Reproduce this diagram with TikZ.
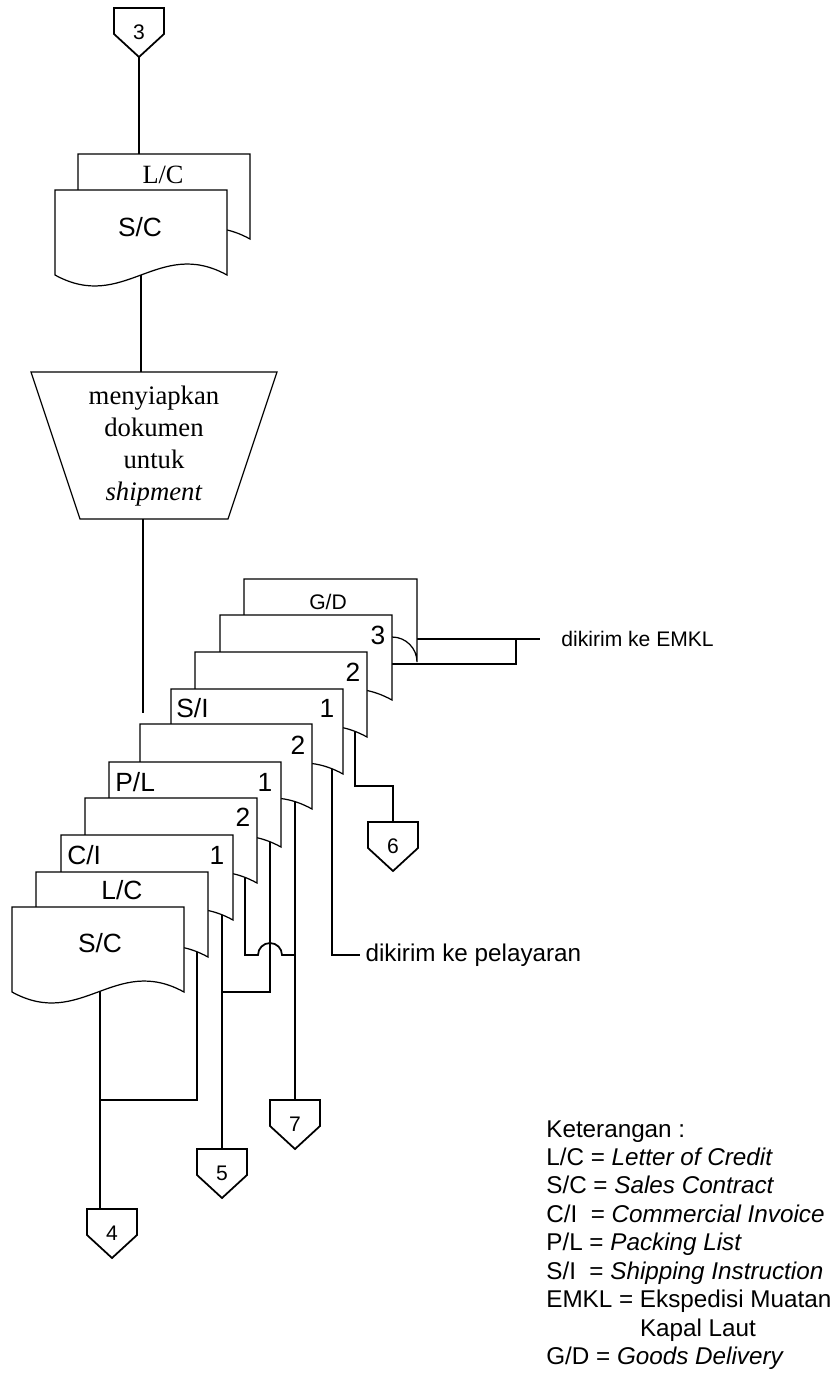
\documentclass[tikz,border=0pt]{standalone}
\usepackage{fontspec}
\setmainfont{Liberation Serif}
\setsansfont{Liberation Sans}
\usetikzlibrary{calc}

% off-page connector: name, x, top y, label
\newcommand{\offpage}[4]{%
  \draw[conline, fill=white] (#2-25,#3) -- (#2+25,#3) -- (#2+25,#3+26) -- (#2,#3+49) -- (#2-25,#3+26) -- cycle;
  \node[offlabel] (#1) at (#2,#3+24) {#4};
  \coordinate (#1-top) at (#2,#3);
  \coordinate (#1-tip) at (#2,#3+49);
}

\begin{document}
\begin{tikzpicture}[
  x=0.02cm, y=-0.02cm,
  docline/.style={line width=0.7pt},
  conline/.style={line width=1pt},
  doc/.pic={\draw[docline, fill=white] (0,0) -- (172,0) -- (172,85) .. controls (103,47) and (69,123) .. (0,85) -- cycle;},
  doclabel/.style={font=\sffamily\fontsize{15}{18}\selectfont, inner sep=0},
  offlabel/.style={font=\sffamily\fontsize{12}{14}\selectfont, inner sep=0},
  note/.style={font=\sffamily\fontsize{13.8}{16.2}\selectfont, inner sep=0}
]
  \useasboundingbox (0,0) rectangle (835,1380);

  \offpage{c3}{139}{8}{3}
  \offpage{c6}{393}{822}{6}
  \offpage{c7}{295}{1100}{7}
  \offpage{c5}{222}{1149}{5}
  \offpage{c4}{112}{1209}{4}

  \coordinate (lc0-in) at (139,165);
  \coordinate (sc0-out) at (141,265);
  \coordinate (prep-top) at (141,372);
  \coordinate (prep-bot) at (143,519);
  \coordinate (stack-end) at (143,713);
  \coordinate (gd-out) at (417,639);
  \coordinate (si3-out) at (392,664);
  \coordinate (gd-join) at (516,639);
  \coordinate (si2-out) at (355,725);
  \coordinate (si1-out) at (332,760);
  \coordinate (pl2-out) at (295,790);
  \coordinate (pl1-out) at (270,830);
  \coordinate (ci2-out) at (245,870);
  \coordinate (ci1-out) at (222,905);
  \coordinate (lc-out) at (197,940);
  \coordinate (sc-out) at (100,980);
  \coordinate (j7) at (295,955);
  \coordinate (j5) at (222,992);
  \coordinate (j4) at (100,1100);

  \node[font=\sffamily\fontsize{12}{14}\selectfont, anchor=west, inner sep=0, inner xsep=12pt] (emkl) at (540,639) {dikirim ke EMKL};
  \node[note, anchor=west, inner xsep=3pt] (pel) at (360,955) {dikirim ke pelayaran};

  % lines first, the documents cover their ends
  \draw[conline] (c3-tip) -- (lc0-in);
  \draw[conline] (sc0-out) -- (prep-top);
  \draw[conline] (prep-bot) -- (stack-end);
  \draw[conline] (gd-out) -- (emkl.west);
  \draw[conline] (si3-out) -| (gd-join);
  \draw[conline] (si2-out) -- ++(0,61) -| (c6-top);
  \draw[conline] (si1-out) |- (pel.west);
  \draw[conline] (pl2-out) -- (c7-top);
  \draw[conline] (ci2-out) -- ++(0,85) -- ++(13,0) arc[start angle=180, end angle=360, radius=12] -- (j7);
  \draw[conline] (pl1-out) |- (j5);
  \draw[conline] (ci1-out) -- (c5-top);
  \draw[conline] (lc-out) |- (j4);
  \draw[conline] (sc-out) -- (sc-out |- c4-top);

  % top documents and process
  \pic at (78,154) {doc};
  \pic at (55,190) {doc};
  \node[font=\fontsize{15}{18}\selectfont, inner sep=0] (lc0) at (163,175) {L/C};
  \node[doclabel] (sc0) at (140,227) {S/C};
  \draw[docline] (31,372) -- (277,372) -- (228,519) -- (80,519) -- cycle;
  \node[font=\fontsize{15.2}{18.1}\selectfont, align=center, inner sep=0] (prep) at (154,446) {menyiapkan\\dokumen\\untuk\\\textit{shipment}};

  % document stack
  \draw[docline, fill=white] (244,640) -- (244,579) -- (417,579) -- (417,662) arc[start angle=0, end angle=-90, radius=25] -- cycle;
  \pic at (220,615) {doc};
  \pic at (195,652) {doc};
  \pic at (171,689) {doc};
  \pic at (140,724) {doc};
  \pic at (109,762) {doc};
  \pic at (85,798) {doc};
  \pic at (61,835) {doc};
  \pic at (36,872) {doc};
  \pic at (12,907) {doc};

  \node[font=\sffamily\fontsize{12}{14}\selectfont, inner sep=0] (gd) at (328,602) {G/D};
  \node[doclabel] (si3) at (378,635) {3};
  \node[doclabel] (si2) at (353,672) {2};
  \node[doclabel, anchor=west] (si1) at (176,708) {S/I};
  \node[doclabel] (si1n) at (327,708) {1};
  \node[doclabel] (pl2) at (298,745) {2};
  \node[doclabel, anchor=west] (pl1) at (115,782) {P/L};
  \node[doclabel] (pl1n) at (265,782) {1};
  \node[doclabel] (ci2) at (243,817) {2};
  \node[doclabel, anchor=west] (ci1) at (67,855) {C/I};
  \node[doclabel] (ci1n) at (217,855) {1};
  \node[doclabel] (lc) at (122,890) {L/C};
  \node[doclabel] (sc) at (100,943) {S/C};

  \node[note, anchor=north west, align=left] (legend) at (546,1120) {Keterangan :\\
    L/C = \textit{Letter of Credit}\\
    S/C = \textit{Sales Contract}\\
    C/I \ = \textit{Commercial Invoice}\\
    P/L = \textit{Packing List}\\
    S/I \ = \textit{Shipping Instruction}\\
    EMKL = Ekspedisi Muatan\\
    \phantom{EMKL = }Kapal Laut\\
    G/D = \textit{Goods Delivery}};
\end{tikzpicture}
\end{document}
